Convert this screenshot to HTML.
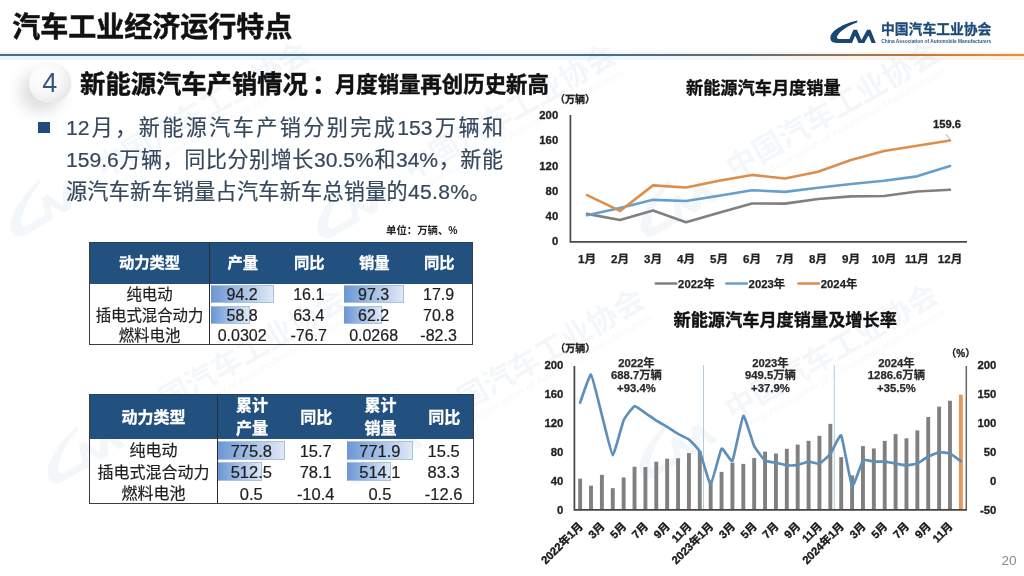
<!DOCTYPE html>
<html lang="zh-CN">
<head>
<meta charset="utf-8">
<title>汽车工业经济运行特点</title>
<style>
html,body{margin:0;padding:0;}
body{width:1024px;height:576px;overflow:hidden;background:#fff;font-family:"Liberation Sans", "Noto Sans CJK SC", sans-serif;position:relative;color:#111;}
.abs{position:absolute;}
#title{left:12.3px;top:5.8px;font-size:28px;font-weight:700;line-height:44px;white-space:nowrap;color:#111;-webkit-text-stroke:0.5px #111;}
#rule{left:0;top:54.1px;width:1024px;height:2.3px;background:linear-gradient(90deg,#4b6d86 0%,#4b6d86 55%,#5d6c78 72%,#b07a45 88%,#e6903f 100%);}
#rule2{left:0;top:51.5px;width:1024px;height:8px;background:linear-gradient(90deg,rgba(120,190,230,.16),rgba(120,190,230,.12) 60%,rgba(250,170,90,.16));}
#badge{left:29.2px;top:62.6px;width:41.4px;height:40.6px;border-radius:50%;background:radial-gradient(circle at 36% 32%,#ffffff 0%,#f8f8f9 45%,#e3e4e6 85%,#d9dadd 100%);box-shadow:-9px 9px 15px rgba(0,0,0,.13),0 0 2px rgba(0,0,0,.08);}
#badge span{position:absolute;left:0;top:0;width:41.4px;height:40.6px;line-height:40.6px;text-align:center;font-size:27px;color:#36557a;}
#h2{left:0.1px;top:62px;height:44px;line-height:44px;white-space:nowrap;font-weight:700;color:#111;-webkit-text-stroke:0.45px #111;}
#h2 span{position:absolute;top:0;}
#h2 .a{font-size:25.3px;left:80px;}
#h2 .k{font-size:25.3px;left:312px;}
#h2 .b{font-size:21.4px;left:334.8px;top:0.6px;}
#bullet{left:38.4px;top:121.6px;width:11.6px;height:11.4px;background:#234a79;}
#para{left:66px;top:111.9px;width:437px;font-size:21.1px;line-height:32px;color:#37485c;-webkit-text-stroke:0.2px #37485c;}
#para div{white-space:nowrap;text-align:justify;text-align-last:justify;}
#para div.l{text-align:left;text-align-last:left;letter-spacing:0.28px;}
#unit{left:386px;top:224px;font-size:10.4px;font-weight:700;line-height:14px;white-space:nowrap;color:#222;}
.tbl{position:absolute;}
.tbl .th{position:absolute;background:#22507f;}
.tbl .c{position:absolute;display:flex;align-items:center;justify-content:center;text-align:center;white-space:nowrap;}
.tbl .hc{color:#fff;font-weight:700;-webkit-text-stroke:0.3px #fff;}
.tbl .bc{color:#1e1e1e;-webkit-text-stroke:0.2px #1e1e1e;}
.tbl .vl{position:absolute;width:1.1px;background:#2c2c2c;}
.tbl .bd{position:absolute;box-sizing:border-box;border:1.3px solid #3c3c3c;border-top-color:#1d4166;}
.tbl .bar{position:absolute;box-sizing:border-box;border:1px solid #a9c0e2;border-left-color:#6f99d4;background:linear-gradient(90deg,#6d98d5 0%,#9ab8e2 40%,#dfe8f6 100%);}
#pg{left:986.5px;top:552.6px;width:30px;text-align:right;font-size:13.6px;line-height:16px;color:#8a8a8a;}
#logo{left:826px;top:14px;width:190px;height:36px;}
svg text{font-family:"Liberation Sans", "Noto Sans CJK SC", sans-serif;}
</style>
</head>
<body>
<svg class="abs" id="wm" style="left:0;top:0" width="1024" height="576" viewBox="0 0 1024 576">
<g transform="translate(23.3 239.5) rotate(-30)" opacity="0.15" fill="#b9cde2"><g transform="translate(-6 -44) scale(1.85)"><path d="M27.2 0 C16.6 2 1.1 8.9 0 16.6 C-0.4 20.4 2.1 22.3 6.6 22.3 L19.2 22.3 L20.9 18.3 L9.1 18.3 C6.6 18.3 5.9 17.2 6.9 15.4 C9.9 10.2 17.6 5.2 26.6 2 Z"/><path d="M18.8 22.3 L23.2 9.3 L26.8 9.3 L30.9 18.5 L36.4 9.3 L40.2 9.3 L45 22.3 L40.8 22.3 L38.2 14.9 L33.8 22.3 L29.6 22.3 L25 14.9 L22.6 22.3 Z"/></g><text x="100" y="-12" font-size="30" font-weight="700">中国汽车工业协会</text><text x="102" y="2" font-size="9.5" font-style="italic" textLength="236" lengthAdjust="spacingAndGlyphs">China Association of Automobile Manufacturers</text></g>
<g transform="translate(330.3 241.5) rotate(-30)" opacity="0.15" fill="#b9cde2"><g transform="translate(-6 -44) scale(1.85)"><path d="M27.2 0 C16.6 2 1.1 8.9 0 16.6 C-0.4 20.4 2.1 22.3 6.6 22.3 L19.2 22.3 L20.9 18.3 L9.1 18.3 C6.6 18.3 5.9 17.2 6.9 15.4 C9.9 10.2 17.6 5.2 26.6 2 Z"/><path d="M18.8 22.3 L23.2 9.3 L26.8 9.3 L30.9 18.5 L36.4 9.3 L40.2 9.3 L45 22.3 L40.8 22.3 L38.2 14.9 L33.8 22.3 L29.6 22.3 L25 14.9 L22.6 22.3 Z"/></g><text x="100" y="-12" font-size="30" font-weight="700">中国汽车工业协会</text><text x="102" y="2" font-size="9.5" font-style="italic" textLength="236" lengthAdjust="spacingAndGlyphs">China Association of Automobile Manufacturers</text></g>
<g transform="translate(653.3 239.5) rotate(-30)" opacity="0.15" fill="#b9cde2"><g transform="translate(-6 -44) scale(1.85)"><path d="M27.2 0 C16.6 2 1.1 8.9 0 16.6 C-0.4 20.4 2.1 22.3 6.6 22.3 L19.2 22.3 L20.9 18.3 L9.1 18.3 C6.6 18.3 5.9 17.2 6.9 15.4 C9.9 10.2 17.6 5.2 26.6 2 Z"/><path d="M18.8 22.3 L23.2 9.3 L26.8 9.3 L30.9 18.5 L36.4 9.3 L40.2 9.3 L45 22.3 L40.8 22.3 L38.2 14.9 L33.8 22.3 L29.6 22.3 L25 14.9 L22.6 22.3 Z"/></g><text x="100" y="-12" font-size="30" font-weight="700">中国汽车工业协会</text><text x="102" y="2" font-size="9.5" font-style="italic" textLength="236" lengthAdjust="spacingAndGlyphs">China Association of Automobile Manufacturers</text></g>
<g transform="translate(60.3 486.5) rotate(-30)" opacity="0.15" fill="#b9cde2"><g transform="translate(-6 -44) scale(1.85)"><path d="M27.2 0 C16.6 2 1.1 8.9 0 16.6 C-0.4 20.4 2.1 22.3 6.6 22.3 L19.2 22.3 L20.9 18.3 L9.1 18.3 C6.6 18.3 5.9 17.2 6.9 15.4 C9.9 10.2 17.6 5.2 26.6 2 Z"/><path d="M18.8 22.3 L23.2 9.3 L26.8 9.3 L30.9 18.5 L36.4 9.3 L40.2 9.3 L45 22.3 L40.8 22.3 L38.2 14.9 L33.8 22.3 L29.6 22.3 L25 14.9 L22.6 22.3 Z"/></g><text x="100" y="-12" font-size="30" font-weight="700">中国汽车工业协会</text><text x="102" y="2" font-size="9.5" font-style="italic" textLength="236" lengthAdjust="spacingAndGlyphs">China Association of Automobile Manufacturers</text></g>
<g transform="translate(358.3 486.5) rotate(-30)" opacity="0.15" fill="#b9cde2"><g transform="translate(-6 -44) scale(1.85)"><path d="M27.2 0 C16.6 2 1.1 8.9 0 16.6 C-0.4 20.4 2.1 22.3 6.6 22.3 L19.2 22.3 L20.9 18.3 L9.1 18.3 C6.6 18.3 5.9 17.2 6.9 15.4 C9.9 10.2 17.6 5.2 26.6 2 Z"/><path d="M18.8 22.3 L23.2 9.3 L26.8 9.3 L30.9 18.5 L36.4 9.3 L40.2 9.3 L45 22.3 L40.8 22.3 L38.2 14.9 L33.8 22.3 L29.6 22.3 L25 14.9 L22.6 22.3 Z"/></g><text x="100" y="-12" font-size="30" font-weight="700">中国汽车工业协会</text><text x="102" y="2" font-size="9.5" font-style="italic" textLength="236" lengthAdjust="spacingAndGlyphs">China Association of Automobile Manufacturers</text></g>
<g transform="translate(652.3 481.5) rotate(-30)" opacity="0.15" fill="#b9cde2"><g transform="translate(-6 -44) scale(1.85)"><path d="M27.2 0 C16.6 2 1.1 8.9 0 16.6 C-0.4 20.4 2.1 22.3 6.6 22.3 L19.2 22.3 L20.9 18.3 L9.1 18.3 C6.6 18.3 5.9 17.2 6.9 15.4 C9.9 10.2 17.6 5.2 26.6 2 Z"/><path d="M18.8 22.3 L23.2 9.3 L26.8 9.3 L30.9 18.5 L36.4 9.3 L40.2 9.3 L45 22.3 L40.8 22.3 L38.2 14.9 L33.8 22.3 L29.6 22.3 L25 14.9 L22.6 22.3 Z"/></g><text x="100" y="-12" font-size="30" font-weight="700">中国汽车工业协会</text><text x="102" y="2" font-size="9.5" font-style="italic" textLength="236" lengthAdjust="spacingAndGlyphs">China Association of Automobile Manufacturers</text></g>
</svg>
<div class="abs" id="title">汽车工业经济运行特点</div>
<div class="abs" id="rule2"></div>
<div class="abs" id="rule"></div>
<svg class="abs" id="logo" viewBox="826 14 190 36" width="190" height="36">
<defs><clipPath id="lc"><rect x="826" y="29.8" width="60" height="13.1"/></clipPath></defs>
<path d="M857.6 20.6 C847 22.6 831.5 29.5 830.4 37.2 C830 41 832.5 42.9 837 42.9 L849.6 42.9 L851.3 38.9 L839.5 38.9 C837 38.9 836.3 37.8 837.3 36 C840.3 30.8 848 25.8 857 22.6 Z" fill="#1b4672"/>
<path clip-path="url(#lc)" d="M849.2 44.5 L855.2 30.6 L861.3 44.5 L868.8 30.6 L874.3 44.5" fill="none" stroke="#1b4672" stroke-width="3.9" stroke-linejoin="round"/>
<text x="881" y="34.2" font-size="13.8" font-weight="700" fill="#1d4a78" stroke="#1d4a78" stroke-width="0.3">中国汽车工业协会</text>
<text x="881.3" y="42.9" font-size="4.6" font-weight="700" fill="#2d5a88" textLength="110" lengthAdjust="spacingAndGlyphs">China Association of Automobile Manufacturers</text>
</svg>
<div class="abs" id="badge"><span>4</span></div>
<div class="abs" id="h2"><span class="a">新能源汽车产销情况</span><span class="k">：</span><span class="b">月度销量再创历史新高</span></div>
<div class="abs" id="bullet"></div>
<div class="abs" id="para">
<div>12月，新能源汽车产销分别完成153万辆和</div>
<div>159.6万辆，同比分别增长30.5%和34%，新能</div>
<div class="l">源汽车新车销量占汽车新车总销量的45.8%。</div>
</div>
<div class="abs" id="unit">单位：万辆、%</div>
<div class="tbl t1" style="left:89px;top:242px;width:384.2px;height:103.3px;">
<div class="th" style="left:0;top:0;width:384.2px;height:41.7px"></div>
<div class="c hc" style="left:0px;top:0.6px;width:121px;height:41.7px;font-size:15.3px;line-height:20px">动力类型</div>
<div class="c hc" style="left:121px;top:0.6px;width:65.5px;height:41.7px;font-size:15.3px;line-height:20px">产量</div>
<div class="c hc" style="left:186.5px;top:0.6px;width:67.7px;height:41.7px;font-size:15.3px;line-height:20px">同比</div>
<div class="c hc" style="left:254.2px;top:0.6px;width:62px;height:41.7px;font-size:15.3px;line-height:20px">销量</div>
<div class="c hc" style="left:316.2px;top:0.6px;width:68px;height:41.7px;font-size:15.3px;line-height:20px">同比</div>
<div class="bar" style="left:121.6px;top:43.3px;width:63.5px;height:17.93px"></div>
<div class="bar" style="left:121.6px;top:63.83px;width:39.62px;height:17.93px"></div>
<div class="bar" style="left:254.8px;top:43.3px;width:60px;height:17.93px"></div>
<div class="bar" style="left:254.8px;top:63.83px;width:38.34px;height:17.93px"></div>
<div class="c bc" style="left:0px;top:41px;width:121px;height:20.53px;font-size:15.4px">纯电动</div>
<div class="c bc" style="left:120.4px;top:43.1px;width:65.5px;height:20.53px;font-size:16px">94.2</div>
<div class="c bc" style="left:185.9px;top:43.1px;width:67.7px;height:20.53px;font-size:16px">16.1</div>
<div class="c bc" style="left:253.6px;top:43.1px;width:62px;height:20.53px;font-size:16px">97.3</div>
<div class="c bc" style="left:315.6px;top:43.1px;width:68px;height:20.53px;font-size:16px">17.9</div>
<div class="c bc" style="left:0px;top:61.53px;width:121px;height:20.53px;font-size:15.4px">插电式混合动力</div>
<div class="c bc" style="left:120.4px;top:63.63px;width:65.5px;height:20.53px;font-size:16px">58.8</div>
<div class="c bc" style="left:185.9px;top:63.63px;width:67.7px;height:20.53px;font-size:16px">63.4</div>
<div class="c bc" style="left:253.6px;top:63.63px;width:62px;height:20.53px;font-size:16px">62.2</div>
<div class="c bc" style="left:315.6px;top:63.63px;width:68px;height:20.53px;font-size:16px">70.8</div>
<div class="c bc" style="left:0px;top:82.07px;width:121px;height:20.53px;font-size:15.4px">燃料电池</div>
<div class="c bc" style="left:120.4px;top:84.17px;width:65.5px;height:20.53px;font-size:16px">0.0302</div>
<div class="c bc" style="left:185.9px;top:84.17px;width:67.7px;height:20.53px;font-size:16px">-76.7</div>
<div class="c bc" style="left:253.6px;top:84.17px;width:62px;height:20.53px;font-size:16px">0.0268</div>
<div class="c bc" style="left:315.6px;top:84.17px;width:68px;height:20.53px;font-size:16px">-82.3</div>
<div class="vl" style="left:120.4px;top:0;height:103.3px"></div>
<div class="bd" style="left:0;top:0;width:384.2px;height:103.3px"></div>
</div>
<div class="tbl t2" style="left:89px;top:393.7px;width:385px;height:110.3px;">
<div class="th" style="left:0;top:0;width:385px;height:45.5px"></div>
<div class="c hc" style="left:0px;top:1px;width:128.8px;height:45.5px;font-size:16px;line-height:23.6px">动力类型</div>
<div class="c hc" style="left:128.8px;top:1px;width:68.2px;height:45.5px;font-size:16px;line-height:23.6px">累计<br>产量</div>
<div class="c hc" style="left:197px;top:1px;width:60.6px;height:45.5px;font-size:16px;line-height:23.6px">同比</div>
<div class="c hc" style="left:257.6px;top:1px;width:67.8px;height:45.5px;font-size:16px;line-height:23.6px">累计<br>销量</div>
<div class="c hc" style="left:325.4px;top:1px;width:59.6px;height:45.5px;font-size:16px;line-height:23.6px">同比</div>
<div class="bar" style="left:129.4px;top:47.1px;width:66.2px;height:19px"></div>
<div class="bar" style="left:129.4px;top:68.7px;width:43.76px;height:19px"></div>
<div class="bar" style="left:258.2px;top:47.1px;width:65.8px;height:19px"></div>
<div class="bar" style="left:258.2px;top:68.7px;width:43.82px;height:19px"></div>
<div class="c bc" style="left:0px;top:44.5px;width:128.8px;height:21.6px;font-size:16px">纯电动</div>
<div class="c bc" style="left:128.2px;top:46.6px;width:68.2px;height:21.6px;font-size:16.5px">775.8</div>
<div class="c bc" style="left:196.4px;top:46.6px;width:60.6px;height:21.6px;font-size:16.5px">15.7</div>
<div class="c bc" style="left:257px;top:46.6px;width:67.8px;height:21.6px;font-size:16.5px">771.9</div>
<div class="c bc" style="left:324.8px;top:46.6px;width:59.6px;height:21.6px;font-size:16.5px">15.5</div>
<div class="c bc" style="left:0px;top:66.1px;width:128.8px;height:21.6px;font-size:16px">插电式混合动力</div>
<div class="c bc" style="left:128.2px;top:68.2px;width:68.2px;height:21.6px;font-size:16.5px">512.5</div>
<div class="c bc" style="left:196.4px;top:68.2px;width:60.6px;height:21.6px;font-size:16.5px">78.1</div>
<div class="c bc" style="left:257px;top:68.2px;width:67.8px;height:21.6px;font-size:16.5px">514.1</div>
<div class="c bc" style="left:324.8px;top:68.2px;width:59.6px;height:21.6px;font-size:16.5px">83.3</div>
<div class="c bc" style="left:0px;top:87.7px;width:128.8px;height:21.6px;font-size:16px">燃料电池</div>
<div class="c bc" style="left:128.2px;top:89.8px;width:68.2px;height:21.6px;font-size:16.5px">0.5</div>
<div class="c bc" style="left:196.4px;top:89.8px;width:60.6px;height:21.6px;font-size:16.5px">-10.4</div>
<div class="c bc" style="left:257px;top:89.8px;width:67.8px;height:21.6px;font-size:16.5px">0.5</div>
<div class="c bc" style="left:324.8px;top:89.8px;width:59.6px;height:21.6px;font-size:16.5px">-12.6</div>
<div class="vl" style="left:128.2px;top:0;height:110.3px"></div>
<div class="bd" style="left:0;top:0;width:385px;height:110.3px"></div>
</div>
<svg class="abs" id="charts" style="left:0;top:0" width="1024" height="576" viewBox="0 0 1024 576">
<text x="763.3" y="94.2" text-anchor="middle" font-size="17.2" font-weight="700" fill="#111" stroke="#111" stroke-width="0.35">新能源汽车月度销量</text>
<text x="575" y="102.8" text-anchor="middle" font-size="10" font-weight="700" fill="#222" stroke="#222" stroke-width="0.3">（万辆）</text>
<text x="558.2" y="245.2" text-anchor="end" font-size="11.3" font-weight="700" fill="#222" stroke="#222" stroke-width="0.3">0</text>
<text x="558.2" y="220" text-anchor="end" font-size="11.3" font-weight="700" fill="#222" stroke="#222" stroke-width="0.3">40</text>
<text x="558.2" y="194.8" text-anchor="end" font-size="11.3" font-weight="700" fill="#222" stroke="#222" stroke-width="0.3">80</text>
<text x="558.2" y="169.6" text-anchor="end" font-size="11.3" font-weight="700" fill="#222" stroke="#222" stroke-width="0.3">120</text>
<text x="558.2" y="144.4" text-anchor="end" font-size="11.3" font-weight="700" fill="#222" stroke="#222" stroke-width="0.3">160</text>
<text x="558.2" y="119.2" text-anchor="end" font-size="11.3" font-weight="700" fill="#222" stroke="#222" stroke-width="0.3">200</text>
<text x="587" y="263.2" text-anchor="middle" font-size="11.6" font-weight="700" fill="#222" stroke="#222" stroke-width="0.25">1月</text>
<text x="620" y="263.2" text-anchor="middle" font-size="11.6" font-weight="700" fill="#222" stroke="#222" stroke-width="0.25">2月</text>
<text x="653" y="263.2" text-anchor="middle" font-size="11.6" font-weight="700" fill="#222" stroke="#222" stroke-width="0.25">3月</text>
<text x="686" y="263.2" text-anchor="middle" font-size="11.6" font-weight="700" fill="#222" stroke="#222" stroke-width="0.25">4月</text>
<text x="719" y="263.2" text-anchor="middle" font-size="11.6" font-weight="700" fill="#222" stroke="#222" stroke-width="0.25">5月</text>
<text x="752" y="263.2" text-anchor="middle" font-size="11.6" font-weight="700" fill="#222" stroke="#222" stroke-width="0.25">6月</text>
<text x="785" y="263.2" text-anchor="middle" font-size="11.6" font-weight="700" fill="#222" stroke="#222" stroke-width="0.25">7月</text>
<text x="818" y="263.2" text-anchor="middle" font-size="11.6" font-weight="700" fill="#222" stroke="#222" stroke-width="0.25">8月</text>
<text x="851" y="263.2" text-anchor="middle" font-size="11.6" font-weight="700" fill="#222" stroke="#222" stroke-width="0.25">9月</text>
<text x="884" y="263.2" text-anchor="middle" font-size="11.6" font-weight="700" fill="#222" stroke="#222" stroke-width="0.25">10月</text>
<text x="917" y="263.2" text-anchor="middle" font-size="11.6" font-weight="700" fill="#222" stroke="#222" stroke-width="0.25">11月</text>
<text x="950" y="263.2" text-anchor="middle" font-size="11.6" font-weight="700" fill="#222" stroke="#222" stroke-width="0.25">12月</text>
<polyline points="587,213.85 620,219.96 653,210.51 686,222.16 719,212.84 752,203.45 785,203.64 818,199.04 851,196.4 884,196.02 917,191.48 950,189.72" fill="none" stroke="#808080" stroke-width="2.6" stroke-linejoin="round" stroke-linecap="round"/>
<polyline points="587,215.3 620,207.93 653,199.86 686,200.93 719,195.83 752,190.22 785,191.86 818,187.7 851,184.05 884,180.77 917,176.36 950,165.97" fill="none" stroke="#659fce" stroke-width="2.6" stroke-linejoin="round" stroke-linecap="round"/>
<polyline points="587,195.07 620,210.95 653,185.37 686,187.45 719,180.84 752,174.91 785,178.57 818,171.7 851,159.92 884,150.91 917,145.74 950,140.45" fill="none" stroke="#dd8e4c" stroke-width="2.6" stroke-linejoin="round" stroke-linecap="round"/>
<path d="M570.4 115 V241.8 H967" fill="none" stroke="#4a4a4a" stroke-width="1.7"/>
<path d="M946 134 L950 139.5" stroke="#999" stroke-width="0.8" fill="none"/>
<text x="947" y="128" text-anchor="middle" font-size="11.2" font-weight="700" fill="#222" stroke="#222" stroke-width="0.3">159.6</text>
<path d="M655.8 283.5 h20.5" stroke="#808080" stroke-width="2.6" stroke-linecap="round"/>
<text x="678.0999999999999" y="287.7" font-size="11.3" font-weight="700" fill="#222" stroke="#222" stroke-width="0.25">2022年</text>
<path d="M726.3 283.5 h20.5" stroke="#659fce" stroke-width="2.6" stroke-linecap="round"/>
<text x="748.5999999999999" y="287.7" font-size="11.3" font-weight="700" fill="#222" stroke="#222" stroke-width="0.25">2023年</text>
<path d="M798.5 283.5 h20.5" stroke="#dd8e4c" stroke-width="2.6" stroke-linecap="round"/>
<text x="820.8" y="287.7" font-size="11.3" font-weight="700" fill="#222" stroke="#222" stroke-width="0.25">2024年</text>
<text x="785.2" y="326.2" text-anchor="middle" font-size="17.2" font-weight="700" fill="#111" stroke="#111" stroke-width="0.35">新能源汽车月度销量及增长率</text>
<text x="575.2" y="351.8" text-anchor="middle" font-size="10" font-weight="700" fill="#222" stroke="#222" stroke-width="0.3">（万辆）</text>
<text x="960.7" y="356.8" text-anchor="middle" font-size="10" font-weight="700" fill="#222" stroke="#222" stroke-width="0.3">（%）</text>
<text x="563.4" y="513.5" text-anchor="end" font-size="11.3" font-weight="700" fill="#222" stroke="#222" stroke-width="0.3">0</text>
<text x="563.4" y="484.68" text-anchor="end" font-size="11.3" font-weight="700" fill="#222" stroke="#222" stroke-width="0.3">40</text>
<text x="563.4" y="455.86" text-anchor="end" font-size="11.3" font-weight="700" fill="#222" stroke="#222" stroke-width="0.3">80</text>
<text x="563.4" y="427.04" text-anchor="end" font-size="11.3" font-weight="700" fill="#222" stroke="#222" stroke-width="0.3">120</text>
<text x="563.4" y="398.22" text-anchor="end" font-size="11.3" font-weight="700" fill="#222" stroke="#222" stroke-width="0.3">160</text>
<text x="563.4" y="369.4" text-anchor="end" font-size="11.3" font-weight="700" fill="#222" stroke="#222" stroke-width="0.3">200</text>
<text x="996.3" y="513.5" text-anchor="end" font-size="11.3" font-weight="700" fill="#222" stroke="#222" stroke-width="0.3">-50</text>
<text x="996.3" y="484.68" text-anchor="end" font-size="11.3" font-weight="700" fill="#222" stroke="#222" stroke-width="0.3">0</text>
<text x="996.3" y="455.86" text-anchor="end" font-size="11.3" font-weight="700" fill="#222" stroke="#222" stroke-width="0.3">50</text>
<text x="996.3" y="427.04" text-anchor="end" font-size="11.3" font-weight="700" fill="#222" stroke="#222" stroke-width="0.3">100</text>
<text x="996.3" y="398.22" text-anchor="end" font-size="11.3" font-weight="700" fill="#222" stroke="#222" stroke-width="0.3">150</text>
<text x="996.3" y="369.4" text-anchor="end" font-size="11.3" font-weight="700" fill="#222" stroke="#222" stroke-width="0.3">200</text>
<path d="M703.5 365 V509.5" stroke="#b4cbd8" stroke-width="1"/>
<path d="M834.3 365 V509.5" stroke="#b4cbd8" stroke-width="1"/>
<rect x="578.19" y="478.65" width="3.9" height="31.05" fill="#808080"/>
<rect x="589.07" y="485.64" width="3.9" height="24.06" fill="#808080"/>
<rect x="599.94" y="474.83" width="3.9" height="34.87" fill="#808080"/>
<rect x="610.82" y="488.16" width="3.9" height="21.54" fill="#808080"/>
<rect x="621.7" y="477.49" width="3.9" height="32.21" fill="#808080"/>
<rect x="632.58" y="466.76" width="3.9" height="42.94" fill="#808080"/>
<rect x="643.46" y="466.97" width="3.9" height="42.73" fill="#808080"/>
<rect x="654.33" y="461.71" width="3.9" height="47.99" fill="#808080"/>
<rect x="665.21" y="458.69" width="3.9" height="51.01" fill="#808080"/>
<rect x="676.09" y="458.26" width="3.9" height="51.44" fill="#808080"/>
<rect x="686.97" y="453.07" width="3.9" height="56.63" fill="#808080"/>
<rect x="697.84" y="451.05" width="3.9" height="58.65" fill="#808080"/>
<rect x="708.72" y="480.3" width="3.9" height="29.4" fill="#808080"/>
<rect x="719.6" y="471.87" width="3.9" height="37.83" fill="#808080"/>
<rect x="730.48" y="462.65" width="3.9" height="47.05" fill="#808080"/>
<rect x="741.36" y="463.88" width="3.9" height="45.82" fill="#808080"/>
<rect x="752.23" y="458.04" width="3.9" height="51.66" fill="#808080"/>
<rect x="763.11" y="451.63" width="3.9" height="58.07" fill="#808080"/>
<rect x="773.99" y="453.5" width="3.9" height="56.2" fill="#808080"/>
<rect x="784.87" y="448.75" width="3.9" height="60.95" fill="#808080"/>
<rect x="795.74" y="444.57" width="3.9" height="65.13" fill="#808080"/>
<rect x="806.62" y="440.82" width="3.9" height="68.88" fill="#808080"/>
<rect x="817.5" y="435.78" width="3.9" height="73.92" fill="#808080"/>
<rect x="828.38" y="423.89" width="3.9" height="85.81" fill="#808080"/>
<rect x="839.26" y="457.18" width="3.9" height="52.52" fill="#808080"/>
<rect x="850.13" y="475.33" width="3.9" height="34.37" fill="#808080"/>
<rect x="861.01" y="446.08" width="3.9" height="63.62" fill="#808080"/>
<rect x="871.89" y="448.46" width="3.9" height="61.24" fill="#808080"/>
<rect x="882.77" y="440.89" width="3.9" height="68.81" fill="#808080"/>
<rect x="893.64" y="434.12" width="3.9" height="75.58" fill="#808080"/>
<rect x="904.52" y="438.3" width="3.9" height="71.4" fill="#808080"/>
<rect x="915.4" y="430.44" width="3.9" height="79.25" fill="#808080"/>
<rect x="926.28" y="416.97" width="3.9" height="92.73" fill="#808080"/>
<rect x="937.16" y="406.67" width="3.9" height="103.03" fill="#808080"/>
<rect x="948.03" y="400.76" width="3.9" height="108.94" fill="#808080"/>
<rect x="958.91" y="394.71" width="3.9" height="114.99" fill="#e6975a"/>
<path d="M580.14 402.6 C580.79 400.93 589.71 373.9 591.02 374.65 C592.32 375.4 600.59 410.28 601.89 415.11 C603.2 419.94 611.47 454.86 612.77 455.17 C614.08 455.48 622.34 423.18 623.65 420.24 C624.96 417.3 633.22 406.6 634.53 406.18 C635.83 405.75 644.1 412.28 645.41 413.15 C646.71 414.02 654.98 419.82 656.28 420.65 C657.59 421.47 665.86 426.08 667.16 426.87 C668.47 427.67 676.73 433.15 678.04 433.9 C679.34 434.66 687.61 438.43 688.92 439.49 C690.22 440.56 698.49 448.9 699.79 451.6 C701.1 454.3 709.37 484.69 710.67 484.51 C711.98 484.33 720.24 450.08 721.55 448.66 C722.86 447.24 731.12 462.79 732.43 460.82 C733.73 458.85 742 416.74 743.31 415.86 C744.61 414.98 752.88 443.5 754.18 446.18 C755.49 448.86 763.76 459.6 765.06 460.59 C766.37 461.58 774.63 462.38 775.94 462.67 C777.24 462.95 785.51 465.18 786.82 465.32 C788.12 465.45 796.39 465.14 797.69 464.91 C799 464.69 807.27 461.65 808.57 461.57 C809.88 461.49 818.14 464.03 819.45 463.59 C820.76 463.14 829.02 455.82 830.33 454.14 C831.63 452.45 839.9 433.54 841.21 435.46 C842.51 437.38 850.78 484.68 852.08 486.18 C853.39 487.69 861.66 462.01 862.96 460.53 C864.27 459.06 872.53 461.5 873.84 461.57 C875.14 461.64 883.41 461.57 884.72 461.69 C886.02 461.8 894.29 463.31 895.59 463.53 C896.9 463.75 905.17 465.31 906.47 465.32 C907.78 465.32 916.04 464.12 917.35 463.59 C918.66 463.06 926.92 457.18 928.23 456.5 C929.53 455.82 937.8 452.47 939.11 452.29 C940.41 452.11 948.68 453.02 949.98 453.56 C951.29 454.1 960.21 460.82 960.86 461.28" fill="none" stroke="#5e8fb9" stroke-width="2.7" stroke-linejoin="round" stroke-linecap="round"/>
<path d="M966.3 366 V509.8" fill="none" stroke="#666" stroke-width="1.5"/><path d="M574.4 366 V509.8 H967" fill="none" stroke="#444" stroke-width="1.7"/>
<text x="636.4" y="366.9" text-anchor="middle" font-size="11.3" font-weight="700" fill="#2a2a2a" stroke="#2a2a2a" stroke-width="0.25">2022年</text>
<text x="636.4" y="379.2" text-anchor="middle" font-size="11.3" font-weight="700" fill="#2a2a2a" stroke="#2a2a2a" stroke-width="0.25">688.7万辆</text>
<text x="636.4" y="391.5" text-anchor="middle" font-size="11.3" font-weight="700" fill="#2a2a2a" stroke="#2a2a2a" stroke-width="0.25">+93.4%</text>
<text x="770.4" y="366.9" text-anchor="middle" font-size="11.3" font-weight="700" fill="#2a2a2a" stroke="#2a2a2a" stroke-width="0.25">2023年</text>
<text x="770.4" y="379.2" text-anchor="middle" font-size="11.3" font-weight="700" fill="#2a2a2a" stroke="#2a2a2a" stroke-width="0.25">949.5万辆</text>
<text x="770.4" y="391.5" text-anchor="middle" font-size="11.3" font-weight="700" fill="#2a2a2a" stroke="#2a2a2a" stroke-width="0.25">+37.9%</text>
<text x="896.4" y="366.9" text-anchor="middle" font-size="11.3" font-weight="700" fill="#2a2a2a" stroke="#2a2a2a" stroke-width="0.25">2024年</text>
<text x="896.4" y="379.2" text-anchor="middle" font-size="11.3" font-weight="700" fill="#2a2a2a" stroke="#2a2a2a" stroke-width="0.25">1286.6万辆</text>
<text x="896.4" y="391.5" text-anchor="middle" font-size="11.3" font-weight="700" fill="#2a2a2a" stroke="#2a2a2a" stroke-width="0.25">+35.5%</text>
<text transform="translate(583.64 527) rotate(-45)" text-anchor="end" font-size="11.2" font-weight="700" fill="#1a1a1a" stroke="#1a1a1a" stroke-width="0.35">2022年1月</text>
<text transform="translate(605.39 527) rotate(-45)" text-anchor="end" font-size="11.2" font-weight="700" fill="#1a1a1a" stroke="#1a1a1a" stroke-width="0.35">3月</text>
<text transform="translate(627.15 527) rotate(-45)" text-anchor="end" font-size="11.2" font-weight="700" fill="#1a1a1a" stroke="#1a1a1a" stroke-width="0.35">5月</text>
<text transform="translate(648.91 527) rotate(-45)" text-anchor="end" font-size="11.2" font-weight="700" fill="#1a1a1a" stroke="#1a1a1a" stroke-width="0.35">7月</text>
<text transform="translate(670.66 527) rotate(-45)" text-anchor="end" font-size="11.2" font-weight="700" fill="#1a1a1a" stroke="#1a1a1a" stroke-width="0.35">9月</text>
<text transform="translate(692.42 527) rotate(-45)" text-anchor="end" font-size="11.2" font-weight="700" fill="#1a1a1a" stroke="#1a1a1a" stroke-width="0.35">11月</text>
<text transform="translate(714.17 527) rotate(-45)" text-anchor="end" font-size="11.2" font-weight="700" fill="#1a1a1a" stroke="#1a1a1a" stroke-width="0.35">2023年1月</text>
<text transform="translate(735.93 527) rotate(-45)" text-anchor="end" font-size="11.2" font-weight="700" fill="#1a1a1a" stroke="#1a1a1a" stroke-width="0.35">3月</text>
<text transform="translate(757.68 527) rotate(-45)" text-anchor="end" font-size="11.2" font-weight="700" fill="#1a1a1a" stroke="#1a1a1a" stroke-width="0.35">5月</text>
<text transform="translate(779.44 527) rotate(-45)" text-anchor="end" font-size="11.2" font-weight="700" fill="#1a1a1a" stroke="#1a1a1a" stroke-width="0.35">7月</text>
<text transform="translate(801.19 527) rotate(-45)" text-anchor="end" font-size="11.2" font-weight="700" fill="#1a1a1a" stroke="#1a1a1a" stroke-width="0.35">9月</text>
<text transform="translate(822.95 527) rotate(-45)" text-anchor="end" font-size="11.2" font-weight="700" fill="#1a1a1a" stroke="#1a1a1a" stroke-width="0.35">11月</text>
<text transform="translate(844.71 527) rotate(-45)" text-anchor="end" font-size="11.2" font-weight="700" fill="#1a1a1a" stroke="#1a1a1a" stroke-width="0.35">2024年1月</text>
<text transform="translate(866.46 527) rotate(-45)" text-anchor="end" font-size="11.2" font-weight="700" fill="#1a1a1a" stroke="#1a1a1a" stroke-width="0.35">3月</text>
<text transform="translate(888.22 527) rotate(-45)" text-anchor="end" font-size="11.2" font-weight="700" fill="#1a1a1a" stroke="#1a1a1a" stroke-width="0.35">5月</text>
<text transform="translate(909.97 527) rotate(-45)" text-anchor="end" font-size="11.2" font-weight="700" fill="#1a1a1a" stroke="#1a1a1a" stroke-width="0.35">7月</text>
<text transform="translate(931.73 527) rotate(-45)" text-anchor="end" font-size="11.2" font-weight="700" fill="#1a1a1a" stroke="#1a1a1a" stroke-width="0.35">9月</text>
<text transform="translate(953.48 527) rotate(-45)" text-anchor="end" font-size="11.2" font-weight="700" fill="#1a1a1a" stroke="#1a1a1a" stroke-width="0.35">11月</text>
</svg>
<div class="abs" id="pg">20</div>
</body>
</html>
